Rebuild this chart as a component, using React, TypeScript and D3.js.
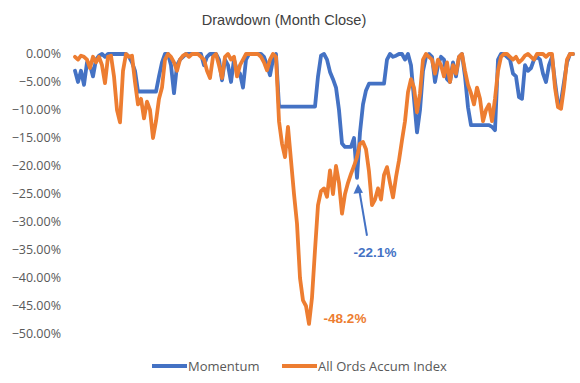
import React from "react";
import * as d3 from "d3";

const momentum: number[] = [
  -3, -5, -3, -5.5, -1.5, -2, -4, -1, -0.3, 0,
  -0.5, 0, 0, 0, 0, 0, 0, 0, -0.5, -1.5,
  -3, -6.7, -6.7, -6.7, -6.7, -6.7, -6.7, -6.7, -4, -1.5,
  0, 0, -2, -7, -2, -1, -0.5, 0, 0, 0,
  0, 0, 0, -2, -0.5, 0, 0, 0, -1, -4.7,
  -1, -2, -5, -1, -3, -3.5, -6, -1, 0, 0,
  0, 0, 0, -0.5, -2, -3.8, -1, 0, -9.4, -9.4,
  -9.4, -9.4, -9.4, -9.4, -9.4, -9.4, -9.4, -9.4, -9.4, -9.4,
  -9.4, -4, -0.3, 0, -1, -3.2, -4.5, -6, -10, -16,
  -16.6, -16.6, -16.6, -15, -22.1, -14, -9, -6.5, -5.3, -5.3,
  -5.3, -5.3, -5.3, -5.3, -1, 0, -0.5, -0.3, 0, 0,
  -1, 0, -2, -8, -14, -10, -3, -0.5, 0, -0.5,
  -5, -2, -0.5, -1, -4.5, -5, -1.5, -4, -0.5, 0,
  -4, -9.5, -12.7, -12.7, -12.7, -12.7, -12.7, -12.7, -12.7, -13,
  -13.6, -1, 0, 0, -0.5, -1, -3.5, -4, -7.7, -8,
  -2, -3, -2.5, -1, -0.5, -1, -3.5, -5, -2, -0.5,
  -5, -9, -8.5, -5, -1.5, 0, 0,
];

const allOrds: number[] = [
  -0.5, -1, -0.3, -0.5, -1, -2.5, -0.5, -1.5, -0.5, -2,
  -5.2, -0.5, -0.3, -4, -10, -12.2, -3, 0, -0.5, -0.3,
  -5, -9, -8, -11.5, -8.5, -10, -15, -12, -8, -6,
  -1, 0, -0.5, -1.5, -3, -1, -0.3, 0, -0.5, 0,
  0, 0, -0.5, -1, -3, -4.3, -0.5, 0, -2, -4.3,
  -0.5, 0, -1, -0.5, -4, -2, -1, 0, 0, 0,
  0, 0, -0.5, -1.5, -2.9, -1, 0, -0.5, -12, -16,
  -18.4, -13, -19, -25, -30.3, -40, -44, -45, -48.2, -43.5,
  -35, -27, -24.5, -24, -25.5, -20.8, -25, -20, -23, -28.5,
  -25, -23, -21.4, -20, -18.4, -16, -15.7, -17, -21, -27,
  -26, -24, -26, -21.6, -20.2, -23, -25.6, -22, -19, -15.4,
  -12, -6.8, -4.5, -6, -10.4, -7, -1, 0, -0.5, -1,
  -3.5, -1, -2, -4, -1.5, -5, -2, -3.5, -0.5, 0,
  -3, -5.5, -7, -9, -6, -8, -12, -10, -9, -12,
  -8, -3, -0.5, 0, 0, -0.5, -1, -0.5, -1.5, -1,
  -0.3, 0, -0.5, -1, 0, 0, 0, -0.5, 0, 0,
  -6, -9.5, -9.8, -6, -1, 0, 0,
];

const yTicks: number[] = [0, -5, -10, -15, -20, -25, -30, -35, -40, -45, -50];
const seriesNames: string[] = ["Momentum", "All Ords Accum Index"];
const seriesColors: string[] = ["#4472C4", "#ED7D31"];
const titleText = "Drawdown (Month Close)";
const annotations = [
  { series: 0, label: "-22.1%" },
  { series: 1, label: "-48.2%" },
];

export default function App() {
  const W = 580;
  const H = 383;
  const x = d3.scaleLinear().domain([0, momentum.length - 1]).range([75, 573]);
  const y = d3.scaleLinear().domain([0, -50]).range([54, 334]);
  const line = d3
    .line<number>()
    .x((_, i) => x(i))
    .y((d) => y(d));
  const data = [momentum, allOrds];

  const minIdx = data.map((s) => d3.minIndex(s));

  const bIdx = minIdx[0];
  const oIdx = minIdx[1];
  const tipX = x(bIdx) + 1;
  const tipY = y(momentum[bIdx]) + 6;
  const tailX = tipX + 9;
  const tailY = tipY + 52;

  return (
    <svg
      width={W}
      height={H}
      style={{ position: "absolute", left: 0, top: 0, background: "#fff" }}
    >
      <rect x={0} y={0} width={W} height={H} fill="#fff" />
      <text
        x={284}
        y={25}
        textAnchor="middle"
        fontFamily="Liberation Sans, Arial, sans-serif"
        fontSize={14.6}
        fill="#404040"
      >
        {titleText}
      </text>
      {yTicks.map((t) => (
        <text
          key={t}
          x={61}
          y={y(t)}
          dy="0.35em"
          textAnchor="end"
          fontFamily="Open Sans, sans-serif"
          fontSize={12.5}
          fill="#595959"
        >
          {d3.format(".2f")(t === 0 ? 0 : t) + "%"}
        </text>
      ))}
      {data.map((s, k) => (
        <path
          key={k}
          d={line(s) || ""}
          fill="none"
          stroke={seriesColors[k]}
          strokeWidth={3.8}
          strokeLinejoin="round"
          strokeLinecap="round"
        />
      ))}
      <line
        x1={tailX}
        y1={tailY}
        x2={tipX + 1.2}
        y2={tipY + 6}
        stroke={seriesColors[0]}
        strokeWidth={2}
      />
      <path
        d={`M${tipX},${tipY} L${tipX - 4.5},${tipY + 10} L${tipX + 5},${tipY + 9} Z`}
        fill={seriesColors[0]}
      />
      <text
        x={375}
        y={257}
        textAnchor="middle"
        fontFamily="Liberation Sans, Arial, sans-serif"
        fontWeight="bold"
        fontSize={13.5}
        fill={seriesColors[annotations[0].series]}
      >
        {annotations[0].label}
      </text>
      <text
        x={x(oIdx) + 36}
        y={323}
        textAnchor="middle"
        fontFamily="Liberation Sans, Arial, sans-serif"
        fontWeight="bold"
        fontSize={13.5}
        fill={seriesColors[annotations[1].series]}
      >
        {annotations[1].label}
      </text>
      {seriesNames.map((n, k) => {
        const lx = k === 0 ? 152 : 282;
        return (
          <g key={n}>
            <line
              x1={lx}
              x2={lx + 35}
              y1={366}
              y2={366}
              stroke={seriesColors[k]}
              strokeWidth={3.8}
            />
            <text
              x={lx + 36}
              y={366}
              dy="0.35em"
              fontFamily="Open Sans, sans-serif"
              fontSize={13}
              fill="#595959"
            >
              {n}
            </text>
          </g>
        );
      })}
    </svg>
  );
}
